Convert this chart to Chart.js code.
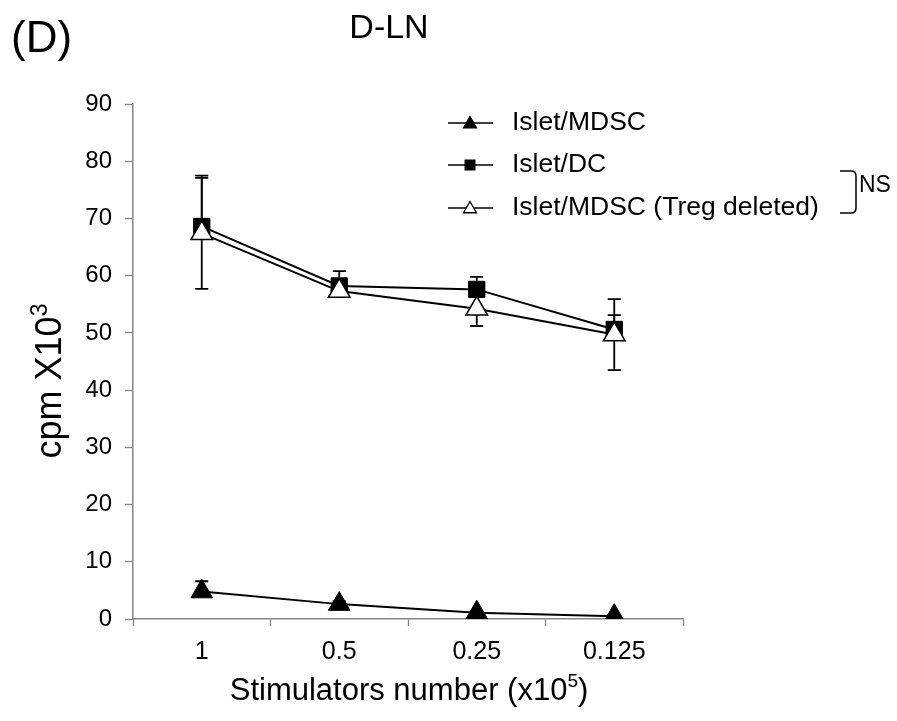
<!DOCTYPE html>
<html><head><meta charset="utf-8">
<script src="https://cdn.jsdelivr.net/npm/chart.js@4.4.1/dist/chart.umd.min.js"></script>
<style>html,body{margin:0;padding:0;background:#fff;} canvas{display:block;}</style>
</head><body>
<canvas id="c" width="897" height="721" style="width:897px;height:721px"></canvas>
<script>
// ---- data ----
const categories = ['1', '0.5', '0.25', '0.125'];
const seriesNames = ['Islet/MDSC', 'Islet/DC', 'Islet/MDSC (Treg deleted)'];
const mdscValues = [4.8, 2.6, 1.1, 0.5];
const mdscErrPlus = [1.8, 0.5, 0.3, 0.2];
const mdscErrMinus = [0, 0, 0, 0];
const dcValues = [68.6, 58.2, 57.6, 50.6];
const dcErrPlus = [8.9, 2.6, 2.2, 2.5];
const dcErrMinus = [0, 0, 0, 0];
const tregValues = [67.4, 57.3, 54.2, 49.7];
const tregErrPlus = [9.7, 1.0, 3.0, 6.2];
const tregErrMinus = [9.7, 1.0, 3.0, 6.2];
const yMin = 0, yMax = 90, yStep = 10;
const panelLabel = '(D)';
const chartTitle = 'D-LN';
const xTitle = 'Stimulators number (x10';
const xTitleSup = '5';
const yTitle = 'cpm X10';
const yTitleSup = '3';
const nsLabel = 'NS';

const FONT = "'Liberation Sans', Arial, Helvetica, sans-serif";
const AXIS_COLOR = '#858585';

const errs = [
  {plus: mdscErrPlus, minus: mdscErrMinus},
  {plus: dcErrPlus, minus: dcErrMinus},
  {plus: tregErrPlus, minus: tregErrMinus}
];

const errorBarPlugin = {
  id: 'errorBars',
  beforeDatasetsDraw(chart) {
    const ctx = chart.ctx, ys = chart.scales.y;
    ctx.save();
    ctx.strokeStyle = '#000';
    ctx.lineWidth = 1.8;
    chart.data.datasets.forEach((ds, i) => {
      const meta = chart.getDatasetMeta(i);
      meta.data.forEach((pt, j) => {
        const v = ds.data[j];
        const e = errs[i];
        const x = pt.x, cap = 6.5;
        const yc = ys.getPixelForValue(v);
        if (e.plus[j] > 0) {
          const yt = ys.getPixelForValue(v + e.plus[j]);
          ctx.beginPath(); ctx.moveTo(x, yc); ctx.lineTo(x, yt);
          ctx.moveTo(x - cap, yt); ctx.lineTo(x + cap, yt); ctx.stroke();
        }
        if (e.minus[j] > 0) {
          const yb = ys.getPixelForValue(v - e.minus[j]);
          ctx.beginPath(); ctx.moveTo(x, yc); ctx.lineTo(x, yb);
          ctx.moveTo(x - cap, yb); ctx.lineTo(x + cap, yb); ctx.stroke();
        }
      });
    });
    ctx.restore();
  }
};

function drawTri(ctx, x, y, r, fill) {
  ctx.beginPath();
  for (let k = 0; k < 3; k++) {
    const a = k * 2 * Math.PI / 3;
    const px = x + Math.sin(a) * r, py = y - Math.cos(a) * r;
    if (k === 0) ctx.moveTo(px, py); else ctx.lineTo(px, py);
  }
  ctx.closePath();
  ctx.fillStyle = fill; ctx.fill();
  ctx.strokeStyle = '#000'; ctx.lineWidth = 1.3; ctx.stroke();
}

const decorPlugin = {
  id: 'decor',
  afterDraw(chart) {
    const ctx = chart.ctx;
    ctx.save();
    ctx.fillStyle = '#000';
    ctx.textBaseline = 'alphabetic';
    // panel label & title
    ctx.font = '44px ' + FONT; ctx.textAlign = 'left';
    ctx.fillText(panelLabel, 11, 52);
    ctx.font = '34px ' + FONT; ctx.textAlign = 'center';
    ctx.fillText(chartTitle, 389, 38);

    // x title with superscript
    ctx.font = '31px ' + FONT;
    const w1 = ctx.measureText(xTitle).width;
    ctx.font = '19px ' + FONT;
    const w2 = ctx.measureText(xTitleSup).width;
    ctx.font = '31px ' + FONT;
    const w3 = ctx.measureText(')').width;
    let sx = 409 - (w1 + w2 + w3) / 2;
    ctx.textAlign = 'left';
    ctx.fillText(xTitle, sx, 700);
    ctx.font = '19px ' + FONT;
    ctx.fillText(xTitleSup, sx + w1, 687);
    ctx.font = '31px ' + FONT;
    ctx.fillText(')', sx + w1 + w2, 700);

    // y title rotated with superscript
    ctx.save();
    ctx.translate(61, 381);
    ctx.rotate(-Math.PI / 2);
    ctx.font = '36px ' + FONT;
    const yw1 = ctx.measureText(yTitle).width;
    ctx.font = '23px ' + FONT;
    const yw2 = ctx.measureText(yTitleSup).width;
    const ys0 = -(yw1 + yw2) / 2;
    ctx.font = '36px ' + FONT;
    ctx.fillText(yTitle, ys0, 0);
    ctx.font = '23px ' + FONT;
    ctx.fillText(yTitleSup, ys0 + yw1, -14);
    ctx.restore();

    // legend
    const rows = [123, 165, 208];
    const lx0 = 448, lx1 = 493, mx = 470;
    ctx.font = '26.5px ' + FONT; ctx.textBaseline = 'middle'; ctx.textAlign = 'left';
    rows.forEach((y, i) => {
      ctx.strokeStyle = '#000'; ctx.lineWidth = 1.6;
      ctx.beginPath(); ctx.moveTo(lx0, y); ctx.lineTo(lx1, y); ctx.stroke();
      if (i === 0) drawTri(ctx, mx, y + 1, 7.5, '#000');
      else if (i === 1) { ctx.fillStyle = '#000'; ctx.fillRect(mx - 5.5, y - 5.5, 11, 11); }
      else drawTri(ctx, mx, y + 1, 7.5, '#fff');
      ctx.fillStyle = '#000';
      ctx.fillText(seriesNames[i], 512, y);
    });

    // NS bracket
    ctx.strokeStyle = '#000'; ctx.lineWidth = 1.5;
    ctx.beginPath();
    ctx.moveTo(840, 171); ctx.lineTo(851, 171);
    ctx.quadraticCurveTo(856, 171, 856, 176);
    ctx.lineTo(856, 208);
    ctx.quadraticCurveTo(856, 213, 851, 213);
    ctx.lineTo(840, 213);
    ctx.stroke();
    ctx.font = '23px ' + FONT; ctx.textBaseline = 'middle';
    ctx.fillText(nsLabel, 859, 186);
    ctx.restore();
  }
};

new Chart(document.getElementById('c'), {
  type: 'line',
  data: {
    labels: categories,
    datasets: [
      {label: seriesNames[0], data: mdscValues, borderColor: '#000', borderWidth: 2,
       pointStyle: 'triangle', pointRadius: 12.5, pointBackgroundColor: '#000', pointBorderColor: '#000', pointBorderWidth: 1, order: 2},
      {label: seriesNames[1], data: dcValues, borderColor: '#000', borderWidth: 2,
       pointStyle: 'rect', pointRadius: 11.5, pointBackgroundColor: '#000', pointBorderColor: '#000', pointBorderWidth: 1, order: 1},
      {label: seriesNames[2], data: tregValues, borderColor: '#000', borderWidth: 2,
       pointStyle: 'triangle', pointRadius: 12.5, pointBackgroundColor: '#fff', pointBorderColor: '#000', pointBorderWidth: 1.5, order: 0}
    ]
  },
  options: {
    responsive: false,
    animation: false,
    devicePixelRatio: 1,
    layout: {padding: {left: 0, top: 104, right: 214, bottom: 0}},
    plugins: {legend: {display: false}, tooltip: {enabled: false}, title: {display: false}},
    elements: {line: {tension: 0}},
    scales: {
      x: {
        offset: true,
        grid: {offset: true, drawOnChartArea: false, drawTicks: true, tickLength: 7, tickColor: AXIS_COLOR, tickWidth: 1.3},
        border: {color: AXIS_COLOR, width: 1.5},
        ticks: {color: '#000', font: {size: 25, family: FONT}, padding: 11, maxRotation: 0},
        afterFit(s) { s.height = 102; }
      },
      y: {
        min: yMin, max: yMax,
        grid: {drawOnChartArea: false, drawTicks: true, tickLength: 8, tickColor: AXIS_COLOR, tickWidth: 1.3},
        border: {color: AXIS_COLOR, width: 1.5},
        ticks: {stepSize: yStep, color: '#000', font: {size: 24, family: FONT}, padding: 13},
        afterFit(s) { s.width = 133; }
      }
    }
  },
  plugins: [errorBarPlugin, decorPlugin]
});
</script>
</body></html>
